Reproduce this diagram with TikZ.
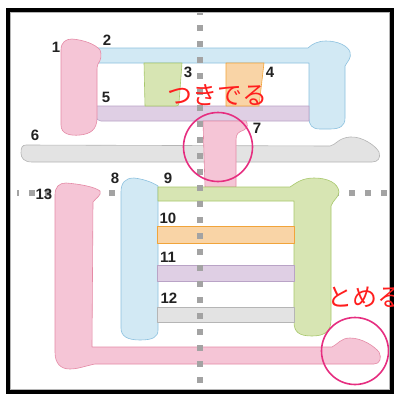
\documentclass[tikz,border=0pt]{standalone}
\usepackage{fontspec}
\setmainfont{Liberation Sans}
\newfontfamily\jpfont{Noto Sans CJK JP}
\begin{document}
\begin{tikzpicture}[x=1pt,y=-1pt,
  stk/.style={line width=0.6pt, line join=round},
  pinkS/.style={stk, fill=pinkF, draw=pinkD},
  blueS/.style={stk, fill=blueF, draw=blueD},
  greenS/.style={stk, fill=greenF, draw=greenD},
  orangeS/.style={stk, fill=orangeF, draw=orangeD},
  purpleS/.style={stk, fill=purpleF, draw=purpleD},
  grayS/.style={stk, fill=grayF, draw=grayD},
  num/.style={font=\bfseries\fontsize{15}{15}\selectfont, text=numC, inner sep=0pt},
  guide/.style={draw=guideC, line width=6pt, dash pattern=on 6pt off 10pt},
  ring/.style={draw=ringC, line width=1.6pt},
  note/.style={font=\jpfont\fontsize{25}{25}\selectfont, text=noteC, inner sep=0pt}]
\definecolor{pinkF}{HTML}{F5C5D6}\definecolor{pinkD}{HTML}{E58AA6}
\definecolor{blueF}{HTML}{D2E9F4}\definecolor{blueD}{HTML}{8CC1DF}
\definecolor{greenF}{HTML}{D7E5B3}\definecolor{greenD}{HTML}{A8C86C}
\definecolor{orangeF}{HTML}{F9D4A6}\definecolor{orangeD}{HTML}{F1A43A}
\definecolor{purpleF}{HTML}{DFCFE4}\definecolor{purpleD}{HTML}{B9A3C6}
\definecolor{grayF}{HTML}{E3E3E3}\definecolor{grayD}{HTML}{B5B5B5}
\definecolor{guideC}{HTML}{A3A3A3}
\definecolor{ringC}{HTML}{E62E80}
\definecolor{noteC}{HTML}{FF1E1E}
\definecolor{numC}{HTML}{222222}
\useasboundingbox (0,0) rectangle (394,394);
\fill[white] (0,0) rectangle (394,394);
% horizontal guide (behind strokes)
\coordinate (hl) at (17,193);
\coordinate (hr) at (388,193);
\draw[guide, dash phase=4pt] (hl) -- (hr);
% stroke 2 (blue)
\path[blueS] (98,48) -- (308,48) .. controls (312,44) and (318,41) .. (326,41)
  .. controls (338,41) and (348,46) .. (350,52) .. controls (352,58) and (347,62) .. (345,66)
  -- (345,118) .. controls (345,126) and (340,129) .. (330,129) -- (320,129)
  .. controls (312,129) and (309,125) .. (309,118) -- (309,63) -- (98,63) -- cycle;
% stroke 5 (purple)
\path[purpleS] (96,106) -- (309,106) -- (309,121) -- (101,121) .. controls (98,121) and (96,119) .. (96,116) -- cycle;
% stroke 3 (green)
\path[greenS] (144,63) -- (182,63) -- (179,103) .. controls (179,105) and (178,106) .. (176,106) -- (145,106) -- cycle;
% stroke 4 (orange)
\path[orangeS] (226,63) -- (264,63) -- (259,106) -- (226,106) -- cycle;
% stroke 1 (pink)
\path[pinkS] (61,50) .. controls (61,42) and (66,39) .. (72,39)
  .. controls (84,40) and (95,44) .. (100,50) .. controls (102,55) and (101,60) .. (98,64)
  .. controls (97,66) and (97,68) .. (97,72) -- (97,118)
  .. controls (97,130) and (90,134) .. (80,135) .. controls (70,136) and (61,134) .. (61,125) -- cycle;
% stroke 6 (gray)
\path[grayS] (26,145) -- (330,146) .. controls (336,145) and (338,138) .. (350,137)
  .. controls (362,136) and (376,146) .. (379,152) .. controls (381,158) and (378,162) .. (372,162)
  -- (32,162) .. controls (24,162) and (21,158) .. (21,153) .. controls (21,148) and (22,145) .. (26,145) -- cycle;
% stroke 7 (pink)
\path[pinkS] (203,121) -- (246,121) .. controls (248,124) and (248,128) .. (244,130)
  .. controls (238,132) and (236,134) .. (236,140) -- (236,187) -- (205,187) -- cycle;
% stroke 8 (blue)
\path[blueS] (121,192) .. controls (121,183) and (125,178) .. (134,178)
  .. controls (143,179) and (152,182) .. (158,186) -- (158,330)
  .. controls (158,337) and (153,340) .. (140,340) .. controls (127,340) and (121,336) .. (121,328) -- cycle;
% stroke 9 (green)
\path[greenS] (158,187) -- (290,187) .. controls (296,183) and (302,178) .. (314,178)
  .. controls (328,178) and (338,183) .. (339,192) .. controls (339,197) and (333,200) .. (331,206)
  -- (331,320) .. controls (331,331) and (325,336) .. (312,336) .. controls (299,336) and (294,332) .. (294,322)
  -- (294,201) -- (158,201) -- cycle;
% strokes 10-12
\path[orangeS] (157,226) rectangle (294,243);
\path[purpleS] (157,265) rectangle (294,281);
\path[grayS] (157,307) rectangle (294,322);
% stroke 13 (pink)
\path[pinkS] (55,195) .. controls (55,187) and (59,183) .. (66,183)
  .. controls (80,184) and (95,187) .. (100,191) .. controls (102,195) and (96,198) .. (93,202)
  -- (92,347) -- (332,347) .. controls (338,344) and (341,338) .. (350,338)
  .. controls (362,338) and (374,346) .. (379,352) .. controls (382,358) and (380,364) .. (374,364)
  -- (95,364) .. controls (85,366) and (78,369) .. (70,369) .. controls (61,369) and (55,364) .. (55,352) -- cycle;
% vertical guide
\coordinate (vt) at (200,9);
\coordinate (vb) at (200,394);
\draw[guide] (vt) -- (vb);
% rings
\node[ring, circle, minimum size=69pt, inner sep=0pt] (r7) at (218,147) {};
\node[ring, circle, minimum size=67pt, inner sep=0pt] (r13) at (355,351) {};
% numbers
\node[num] (l1) at (56,47) {1};
\node[num] (l2) at (107,40) {2};
\node[num] (l3) at (188,72) {3};
\node[num] (l4) at (270,72) {4};
\node[num] (l5) at (106,97) {5};
\node[num] (l6) at (35,135) {6};
\node[num] (l7) at (257,128) {7};
\node[num] (l8) at (115,178) {8};
\node[num] (l9) at (168,178) {9};
\node[num] (l10) at (168,218) {10};
\node[num] (l11) at (168,257) {11};
\node[num] (l12) at (169,298) {12};
\node[num] (l13) at (44,194) {13};
% frame
\draw[draw=grayD, line width=0.8pt] (10.5,12.5) rectangle (389.5,389.5);
\draw[black, line width=4pt] (8,10) rectangle (392,392);
% notes
\node[note, anchor=center] (n1) at (217,95) {つきでる};
\node[note, anchor=west] (n2) at (327,297) {とめる};
\end{tikzpicture}
\end{document}
